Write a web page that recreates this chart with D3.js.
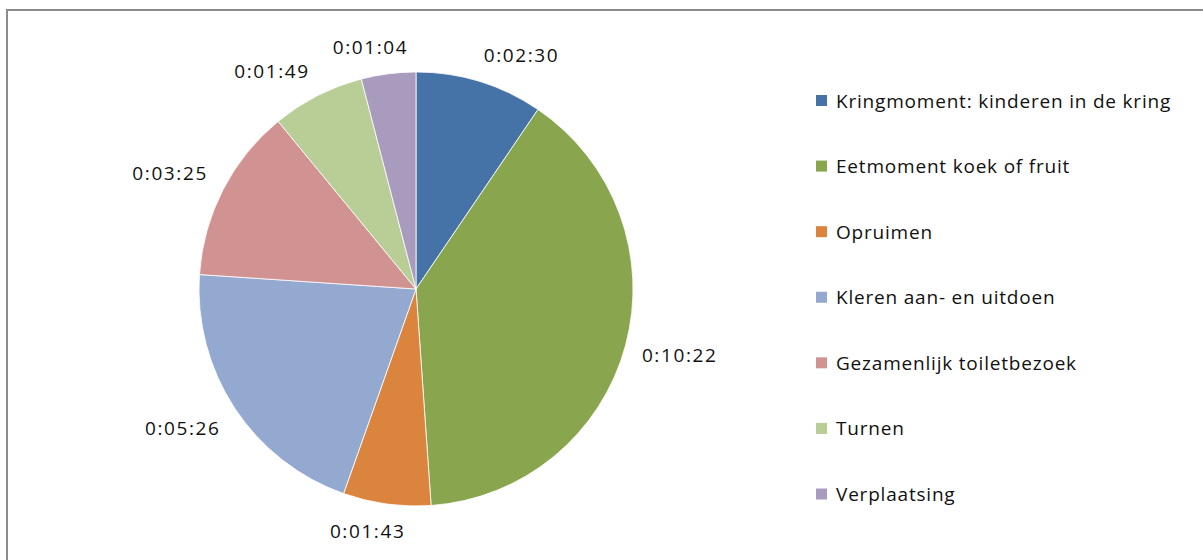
<!DOCTYPE html>
<html>
<head>
<meta charset="utf-8">
<script src="https://cdn.jsdelivr.net/npm/d3@7"></script>
<style>
  html, body { margin: 0; padding: 0; background: #fff; }
  svg { display: block; }
</style>
</head>
<body>
<div id="chart"></div>
<script>
'use strict';

// chart data (durations as h:mm:ss)
const categories = [
  'Kringmoment: kinderen in de kring',
  'Eetmoment koek of fruit',
  'Opruimen',
  'Kleren aan- en uitdoen',
  'Gezamenlijk toiletbezoek',
  'Turnen',
  'Verplaatsing'
];
const durations = ['0:02:30', '0:10:22', '0:01:43', '0:05:26', '0:03:25', '0:01:49', '0:01:04'];
const colours = ['#4572a7', '#89a54e', '#db843d', '#93a9cf', '#d19392', '#b9cd96', '#a99bbd'];

/** turn h:mm:ss into seconds */
function toSeconds (s) {
  const p = s.split(':').map(Number);
  return p[0] * 3600 + p[1] * 60 + p[2];
}

const data = categories.map((c, i) => ({ name: c, label: durations[i], value: toSeconds(durations[i]) }));

const width = 1203;
const height = 560;
const cx = 416;
const cy = 289;
const radius = 217;

const svg = d3.select('#chart')
  .append('svg')
    .attr('width', width)
    .attr('height', height);

// chart frame
svg.append('rect')
  .attr('x', 7)
  .attr('y', 10)
  .attr('width', width + 20)
  .attr('height', height + 20)
  .attr('fill', '#fff')
  .attr('stroke', '#8c8c8c')
  .attr('stroke-width', 2);

const color = d3.scaleOrdinal()
  .domain(categories)
  .range(colours);

const pie = d3.pie()
  .value(d => d.value)
  .sort(null);
const arcs = pie(data);

const arc = d3.arc()
  .innerRadius(0)
  .outerRadius(radius);

const g = svg.append('g')
  .attr('transform', `translate(${cx},${cy})`);

g.selectAll('path')
  .data(arcs)
  .join('path')
    .attr('d', arc)
    .attr('fill', d => color(d.data.name))
    .attr('stroke', '#fff')
    .attr('stroke-width', 0.8);

// data labels outside the slices
const clamp = v => Math.max(-1, Math.min(1, v));
const labelR = radius + 17;
g.selectAll('text.lbl')
  .data(arcs)
  .join('text')
    .attr('class', 'lbl')
    .attr('font-family', '"Open Sans", sans-serif')
    .attr('font-size', 19)
    .attr('letter-spacing', 1.6)
    .attr('fill', '#111')
    .attr('text-anchor', 'middle')
    .attr('dominant-baseline', 'central')
    .text(d => d.data.label)
    .each(function (d) {
      const a = (d.startAngle + d.endAngle) / 2;
      const s = Math.sin(a);
      const c = -Math.cos(a);
      const w = this.getComputedTextLength();
      const h = 20;
      const x = labelR * s + clamp(s * 3.3) * w / 2;
      const y = labelR * c + clamp(c * 2) * h / 2;
      d3.select(this).attr('x', x).attr('y', y);
    });

// legend
const legendY = d3.scalePoint()
  .domain(categories)
  .range([100.5, 494]);

const legend = svg.append('g');
const item = legend.selectAll('g')
  .data(categories)
  .join('g')
    .attr('transform', d => `translate(816,${legendY(d)})`);

item.append('rect')
  .attr('x', 0)
  .attr('y', -5.5)
  .attr('width', 11)
  .attr('height', 11)
  .attr('fill', d => color(d));

item.append('text')
  .attr('x', 20)
  .attr('y', 0)
  .attr('dominant-baseline', 'central')
  .attr('font-family', '"Open Sans", sans-serif')
  .attr('font-size', 19)
  .attr('letter-spacing', 0.8)
  .attr('fill', '#111')
  .text(d => d);
</script>
</body>
</html>
